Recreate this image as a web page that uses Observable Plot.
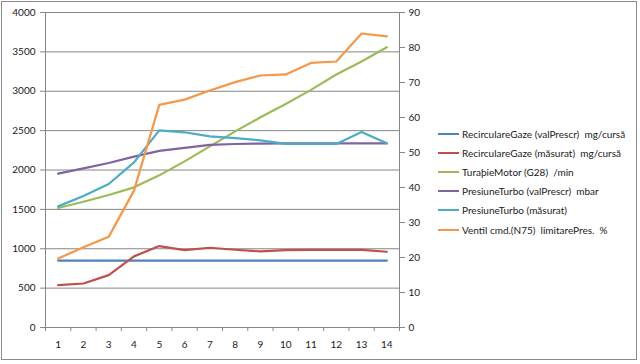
<!DOCTYPE html>
<html>
<head>
<meta charset="utf-8">
<script src="https://cdn.jsdelivr.net/npm/d3@7"></script>
<script src="https://cdn.jsdelivr.net/npm/@observablehq/plot@0.6"></script>
<style>
  html, body { margin: 0; padding: 0; background: #fff; }
  #wrap { position: relative; width: 640px; height: 364px; overflow: hidden; }
  #frame { position: absolute; left: 1px; top: 1px; width: 636px; height: 359px; border: 1px solid #8c8c8c; box-sizing: border-box; }
  #chart { position: absolute; left: 0; top: 0; }
  #legend { position: absolute; left: 438px; top: 124px; font-family: Lato, sans-serif; font-size: 10px; color: #1a1a1a; }
  .row { height: 19.2px; display: flex; align-items: center; white-space: pre; }
  .sw { width: 21px; height: 2px; margin-right: 3px; }
</style>
</head>
<body>
<div id="wrap">
  <div id="frame"></div>
  <div id="chart"></div>
  <div id="legend"></div>
</div>
<script>
const categories = [1, 2, 3, 4, 5, 6, 7, 8, 9, 10, 11, 12, 13, 14];
const recircValPrescr = [850, 850, 850, 850, 850, 850, 850, 850, 850, 850, 850, 850, 850, 850];
const recircMasurat = [538, 559, 665, 903, 1034, 983, 1013, 987, 966, 983, 985, 985, 985, 962];
const turatieMotor = [1517, 1597, 1682, 1780, 1932, 2110, 2300, 2490, 2669, 2839, 3017, 3212, 3377, 3559];
const presiuneValPrescr = [1953, 2021, 2089, 2169, 2242, 2280, 2318, 2330, 2335, 2338, 2339, 2339, 2339, 2339];
const presiuneMasurat = [1538, 1669, 1822, 2097, 2504, 2479, 2428, 2405, 2377, 2331, 2331, 2331, 2483, 2339];
const ventilN75 = [19.7, 22.9, 25.9, 39.1, 63.6, 65.1, 67.7, 70.1, 72.0, 72.3, 75.6, 76.0, 84.0, 83.2];

const seriesNames = [
  "RecirculareGaze (valPrescr)  mg/cursă",
  "RecirculareGaze (măsurat)  mg/cursă",
  "TuraþieMotor (G28)  /min",
  "PresiuneTurbo (valPrescr)  mbar",
  "PresiuneTurbo (măsurat)",
  "Ventil cmd.(N75)  limitarePres.  %"
];
const seriesColors = ["#4F81BD", "#C0504D", "#9BBB59", "#8064A2", "#4BACC6", "#F79646"];
const leftTicks = [0, 500, 1000, 1500, 2000, 2500, 3000, 3500, 4000];
const rightTicks = [0, 10, 20, 30, 40, 50, 60, 70, 80, 90];

const leftMax = 4000, rightMax = 90;
const toLeft = v => v * leftMax / rightMax;

const seriesValues = [recircValPrescr, recircMasurat, turatieMotor, presiuneValPrescr, presiuneMasurat, ventilN75];
const rightAxisSeries = [false, false, false, false, false, true];

const rows = [];
seriesValues.forEach((vals, i) => {
  vals.forEach((v, j) => rows.push({s: seriesNames[i], x: categories[j], y: rightAxisSeries[i] ? toLeft(v) : v, c: seriesColors[i]}));
});

const bounds = [categories[0] - 0.5, ...categories.map(c => c + 0.5)];
const grey = "#868686";

const lineMarks = seriesNames.map((name, i) =>
  Plot.line(rows.filter(r => r.s === name), {x: "x", y: "y", stroke: seriesColors[i], strokeWidth: 2.2, strokeLinejoin: "round"})
);

const chart = Plot.plot({
  width: 640,
  height: 364,
  marginLeft: 45,
  marginRight: 241,
  marginTop: 12,
  marginBottom: 37,
  style: {fontFamily: "Lato, sans-serif", fontSize: "10px", background: "transparent", color: "#1a1a1a"},
  x: {domain: [bounds[0], bounds[bounds.length - 1]]},
  y: {domain: [0, leftMax]},
  marks: [
    Plot.ruleY(leftTicks, {stroke: grey, strokeWidth: 1}),
    Plot.ruleX([bounds[0], bounds[bounds.length - 1]], {stroke: grey, strokeWidth: 1}),
    Plot.axisY({ticks: leftTicks, tickFormat: d => String(d), tickSize: 5, tickPadding: 5, label: null, stroke: grey, fill: "#1a1a1a"}),
    Plot.axisY({anchor: "right", ticks: rightTicks.map(toLeft), tickFormat: d => String(Math.round(d * rightMax / leftMax)), tickSize: 5, tickPadding: 4, label: null, stroke: grey, fill: "#1a1a1a"}),
    Plot.axisX({ticks: bounds, tickSize: 4, tickFormat: () => "", label: null, stroke: grey}),
    Plot.axisX({ticks: categories, tickSize: 0, tickPadding: 13, label: null, fill: "#1a1a1a"}),
    ...lineMarks
  ]
});
document.getElementById("chart").appendChild(chart);

const legend = document.getElementById("legend");
seriesNames.forEach((name, i) => {
  const row = document.createElement("div");
  row.className = "row";
  const sw = document.createElement("div");
  sw.className = "sw";
  sw.style.background = seriesColors[i];
  const t = document.createElement("span");
  t.textContent = name;
  row.appendChild(sw);
  row.appendChild(t);
  legend.appendChild(row);
});
</script>
</body>
</html>
